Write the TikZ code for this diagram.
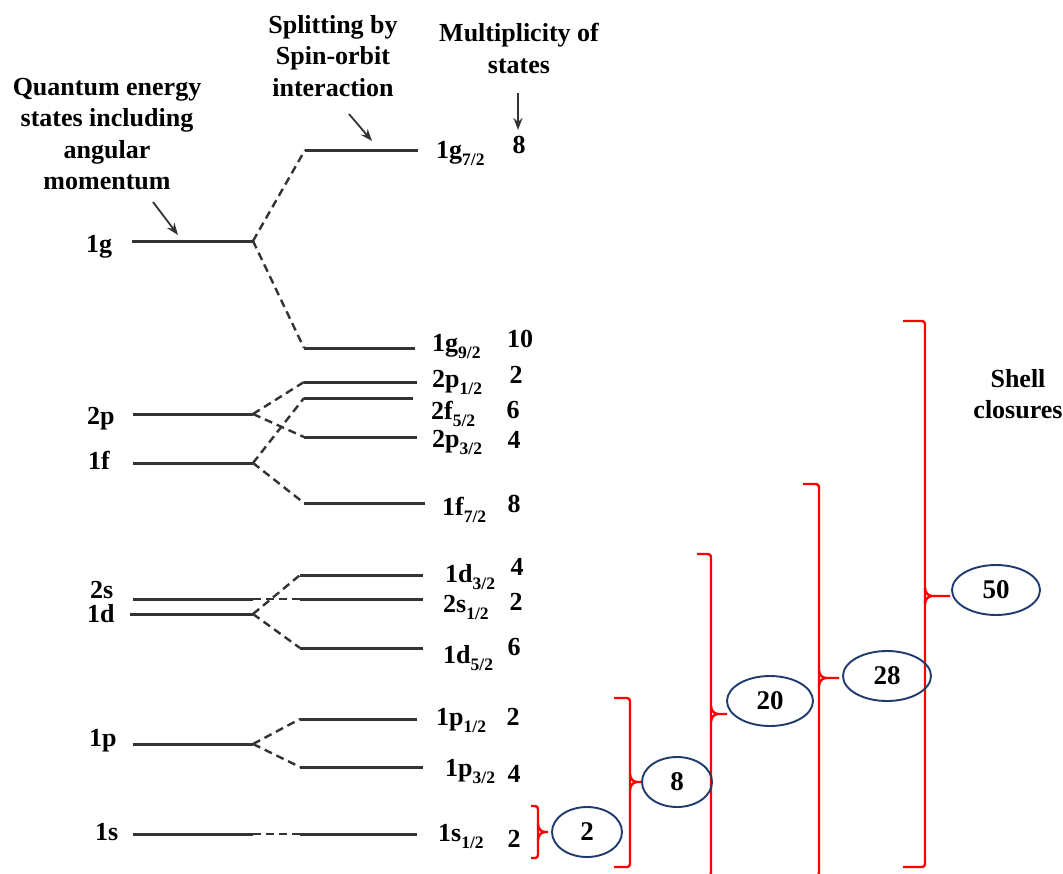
\documentclass[tikz,border=0pt]{standalone}
\usepackage{fontspec}
\setmainfont{Liberation Serif}
\usetikzlibrary{arrows.meta,shapes.geometric}
\definecolor{levelgray}{HTML}{333333}
\definecolor{shellblue}{HTML}{1F3A6E}
\definecolor{bracketred}{HTML}{FF0000}
\newcommand{\lsub}[1]{\raisebox{-0.3em}{\fontsize{17.5}{17.5}\selectfont #1}}

\begin{document}
\begin{tikzpicture}[x=1pt,y=-1pt,
  level/.style={line width=3pt, draw=levelgray},
  split/.style={line width=2.4pt, draw=levelgray, dash pattern=on 8pt off 5pt},
  txt/.style={font=\fontsize{26}{31.5}\selectfont\bfseries, inner sep=0pt, align=center, text=black},
  lab/.style={txt, anchor=base west},
  mult/.style={txt, anchor=base},
  pointer/.style={line width=1.8pt, draw=levelgray, -{Stealth[length=12pt,width=9pt]}},
  bracket/.style={line width=2.4pt, draw=bracketred, rounded corners=3pt},
  shell/.style={ellipse, draw=shellblue, line width=1.9pt, inner sep=0pt,
                font=\fontsize{27}{27}\selectfont\bfseries}
]
\useasboundingbox (0,0) rectangle (1063,873);

% ---------- headings ----------
\node[txt, anchor=north] (hq) at (107,78) {Quantum energy\\states including\\angular\\momentum};
\node[txt, anchor=north] (hs) at (333,15) {Splitting by\\Spin-orbit\\interaction};
\node[txt, anchor=north] (hm) at (519,23) {Multiplicity of\\states};
\node[txt, anchor=north] (hc) at (1018,369) {Shell\\closures};

\coordinate (aq1) at (153,202); \coordinate (aq2) at (178,235);
\coordinate (as1) at (349,114); \coordinate (as2) at (372,141);
\coordinate (am1) at (518,93);  \coordinate (am2) at (518,130);
\draw[pointer] (aq1) -- (aq2);
\draw[pointer] (as1) -- (as2);
\draw[pointer] (am1) -- (am2);

% ---------- unsplit levels (left) ----------
\foreach \n/\y/\xl in {g/241/132, p2/414/133, f1/463/133, s2/599/133, d1/614/130, p1/744/133, s1/834/133}{
  \coordinate (\n-L) at (\xl,\y);
  \coordinate (\n-R) at (253,\y);
  \draw[level] (\n-L) -- (\n-R);
}

% ---------- split levels (right) ----------
\foreach \n/\y/\xl/\xr in {g72/150/305/418, g92/348/304/415, p212/382/304/417,
    f52/398/304/413, p232/437/304/417, f72/503/304/425, d32/575/300/423,
    s212/599/300/423, d52/648/300/423, p12/719/300/417, p32/767/300/423,
    s12/834/300/417}{
  \coordinate (\n-L) at (\xl,\y);
  \coordinate (\n-R) at (\xr,\y);
  \draw[level] (\n-L) -- (\n-R);
}

% ---------- spin-orbit splitting ----------
\draw[split] (g-R) -- (g72-L);
\draw[split] (g-R) -- (g92-L);
\draw[split] (p2-R) -- (p212-L);
\draw[split] (p2-R) -- (p232-L);
\draw[split] (f1-R) -- (f52-L);
\draw[split] (f1-R) -- (f72-L);
\draw[split] (s2-R) -- (s212-L);
\draw[split] (d1-R) -- (d32-L);
\draw[split] (d1-R) -- (d52-L);
\draw[split] (p1-R) -- (p12-L);
\draw[split] (p1-R) -- (p32-L);
\draw[split] (s1-R) -- (s12-L);

% ---------- level names (left) ----------
\node[lab] (n-g)  at (86,252)  {1g};
\node[lab] (n-p2) at (87,424)  {2p};
\node[lab] (n-f1) at (88,469)  {1f};
\node[lab] (n-s2) at (90,598)  {2s};
\node[lab] (n-d1) at (87,622)  {1d};
\node[lab] (n-p1) at (89,746)  {1p};
\node[lab] (n-s1) at (95,840)  {1s};

% ---------- level names (right) ----------
\node[lab] (n-g72)  at (436,158) {1g\lsub{7/2}};
\node[lab] (n-g92)  at (432,351) {1g\lsub{9/2}};
\node[lab] (n-p212) at (432,387) {2p\lsub{1/2}};
\node[lab] (n-f52)  at (431,419) {2f\lsub{5/2}};
\node[lab] (n-p232) at (432,447) {2p\lsub{3/2}};
\node[lab] (n-f72)  at (442,515) {1f\lsub{7/2}};
\node[lab] (n-d32)  at (445,582) {1d\lsub{3/2}};
\node[lab] (n-s212) at (443,612) {2s\lsub{1/2}};
\node[lab] (n-d52)  at (443,663) {1d\lsub{5/2}};
\node[lab] (n-p12)  at (436,725) {1p\lsub{1/2}};
\node[lab] (n-p32)  at (445,776) {1p\lsub{3/2}};
\node[lab] (n-s12)  at (438,841) {1s\lsub{1/2}};

% ---------- multiplicities ----------
\node[mult] (m-g72)  at (519,153) {8};
\node[mult] (m-g92)  at (520,347) {10};
\node[mult] (m-p212) at (516,383) {2};
\node[mult] (m-f52)  at (513,418) {6};
\node[mult] (m-p232) at (514,448) {4};
\node[mult] (m-f72)  at (514,512) {8};
\node[mult] (m-d32)  at (517,575) {4};
\node[mult] (m-s212) at (516,610) {2};
\node[mult] (m-d52)  at (514,655) {6};
\node[mult] (m-p12)  at (513,725) {2};
\node[mult] (m-p32)  at (514,782) {4};
\node[mult] (m-s12)  at (514,847) {2};

% ---------- shell closure brackets ----------
% name / spine x / hook x / top / middle / tip x / bottom
\foreach \n/\x/\h/\t/\m/\p/\b in {2/538/531/806/832/548/858,
    8/630/614/698/782/643/867, 20/711/697/554/714/727/876,
    28/819/803/484/678/839/876, 50/925/903/321/596/950/867}{
  \coordinate (b\n-top) at (\h,\t);
  \coordinate (b\n-bot) at (\h,\b);
  \coordinate (b\n-mid) at (\x,\m);
  \coordinate (b\n-tip) at (\p,\m);
  \draw[bracket] (b\n-top) -- (\x,\t) -- (\x,\b) -- (b\n-bot);
  \draw[bracket, rounded corners=0pt] (\x,\m-8) to[out=-90,in=180] (\x+7,\m) -- (b\n-tip);
  \draw[bracket, rounded corners=0pt] (\x,\m+8) to[out=90,in=180] (\x+7,\m);
}

% ---------- magic numbers ----------
\node[shell, minimum width=70pt, minimum height=50pt] (c2)  at (587,832) {2};
\node[shell, minimum width=70pt, minimum height=50pt] (c8)  at (677,782) {8};
\node[shell, minimum width=86pt, minimum height=50pt] (c20) at (770,701) {20};
\node[shell, minimum width=88pt, minimum height=50pt] (c28) at (887,676) {28};
\node[shell, minimum width=88pt, minimum height=50pt] (c50) at (996,590) {50};
\end{tikzpicture}
\end{document}
